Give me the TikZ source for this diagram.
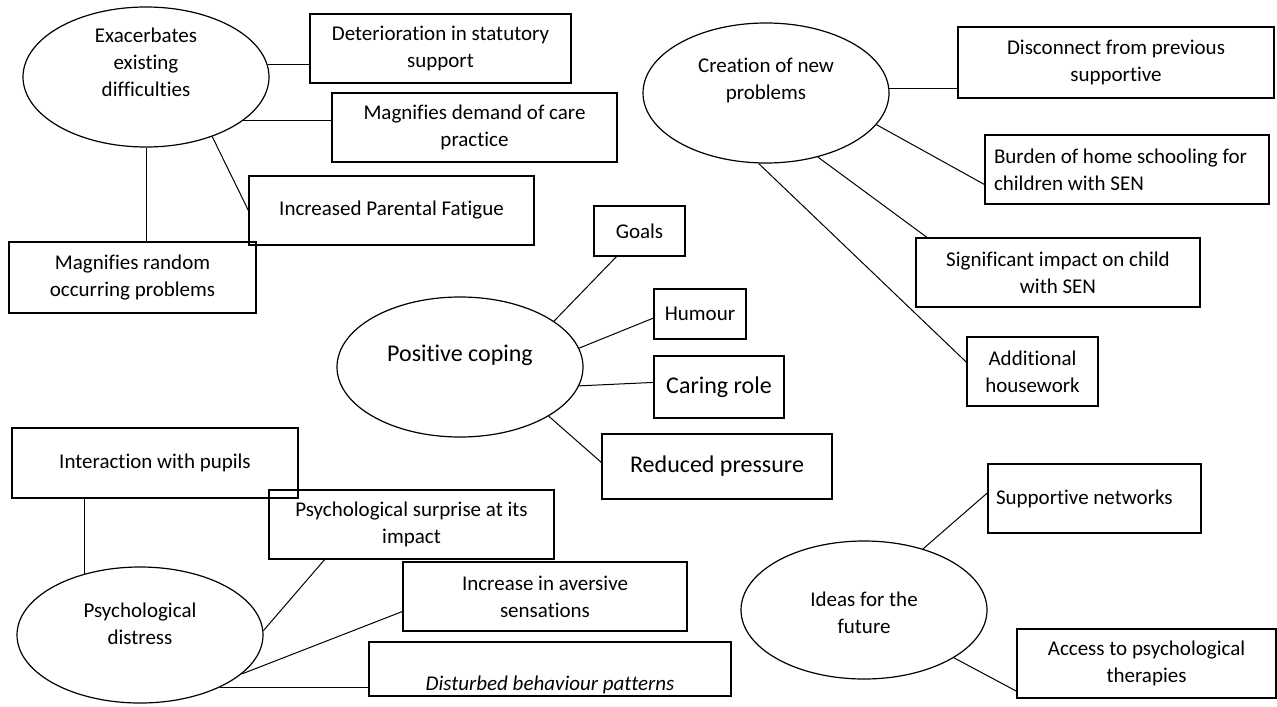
\documentclass[tikz,border=0pt]{standalone}
\usepackage{fontspec}
\setmainfont{Carlito}[Ligatures=NoCommon]
\usetikzlibrary{shapes.geometric}
\newcommand\nsz{\fontsize{10.5}{13.5}\selectfont}
\newcommand\lsz{\fontsize{12}{14.5}\selectfont}
\begin{document}
\begin{tikzpicture}[x=0.5pt,y=-0.5pt,
  box/.style={draw, line width=0.6pt, rectangle, inner sep=0pt, align=center, font=\nsz},
  lbox/.style={box, font=\lsz},
  oval/.style={draw, line width=0.6pt, ellipse, inner sep=0pt, minimum width=123pt, minimum height=70pt},
  etext/.style={align=center, font=\nsz},
  link/.style={line width=0.5pt}]
\useasboundingbox (0,0) rectangle (1277,706);

% ellipses
\node[oval, label={[etext, yshift=7.5pt]center:Exacerbates\\existing\\difficulties}] (e1) at (146,77) {};
\node[oval, label={[etext, yshift=6.5pt]center:Creation of new\\problems}] (e2) at (766,93) {};
\node[oval, label={[etext, font=\lsz, yshift=6pt]center:Positive coping}] (e3) at (460,367) {};
\node[oval, minimum height=68pt, label={[etext, yshift=5.75pt]center:Psychological\\distress}] (e4) at (140,635) {};
\node[oval, minimum height=69pt, label={[etext, yshift=-1.25pt]center:Ideas for the\\future}] (e5) at (864,610) {};

% boxes
\node[box, minimum width=130.5pt, minimum height=34.5pt] (det) at (440.5,48.5) {Deterioration in statutory\\support};
\node[box, minimum width=142.5pt, minimum height=34.5pt] (mdc) at (474.5,127.5) {Magnifies demand of care\\practice};
\node[box, minimum width=142.5pt, minimum height=34.5pt] (ipf) at (391.5,210.5) {Increased Parental Fatigue};
\node[box, minimum width=123.5pt, minimum height=35.5pt] (mro) at (132.5,277.5) {Magnifies random\\occurring problems};

\node[box, minimum width=158pt, minimum height=35.5pt] (disc) at (1116,62.5) {Disconnect from previous\\supportive};
\node[box, align=flush left, inner xsep=4.5pt, text width=133pt, minimum height=34.5pt] (burden) at (1127,169.5) {Burden of home schooling for\\children with SEN};
\node[box, minimum width=142pt, minimum height=34.5pt] (sig) at (1058,272.5) {Significant impact on child\\with SEN};
\node[box, minimum width=65.5pt, minimum height=34.5pt] (add) at (1032.5,371.5) {Additional\\housework};

\node[box, minimum width=45.5pt, minimum height=25pt] (goals) at (639.5,231) {Goals};
\node[box, minimum width=46pt, minimum height=25pt] (humour) at (700,314) {Humour};
\node[lbox, minimum width=65pt, minimum height=31pt] (caring) at (719,387) {Caring role};
\node[lbox, minimum width=115pt, minimum height=32.5pt] (reduced) at (717,466.5) {Reduced pressure};

\node[box, minimum width=143pt, minimum height=35pt] (inter) at (155,463) {Interaction with pupils};
\node[box, minimum width=142.5pt, minimum height=34.5pt] (surprise) at (411.5,524.5) {Psychological surprise at its\\impact};
\node[box, minimum width=142pt, minimum height=34.5pt] (aversive) at (545,596.5) {Increase in aversive\\sensations};
\node[box, minimum width=181pt, minimum height=27pt] (dist) at (550,669) {\strut\\\textit{Disturbed behaviour patterns}};

\node[box, align=flush left, inner xsep=4pt, text width=98.5pt, minimum height=34.5pt] (sup) at (1094.5,498.5) {Supportive networks};
\node[box, minimum width=129.5pt, minimum height=34.5pt] (access) at (1146.5,663.5) {Access to psychological\\therapies};

% connectors
\draw[link] (e1.6.6) -- (e1.6.6 -| det.west);
\draw[link] (e1.-24.7) -- (e1.-24.7 -| mdc.west);
\draw[link] (e1.-42) -- (ipf.west);
\draw[link] (e1.south) -- (e1.south |- mro.north);

\draw[link] (e2.2) -- (e2.2 -| disc.west);
\draw[link] (e2.-16.9) -- (burden.186.6);
\draw[link] (e2.-51.3) -- (sig.165.7);
\draw[link] (e2.-96.5) -- (add.172.6);

\draw[link] (e3.26.8) -- (goals.-132);
\draw[link] (e3.9.5) -- (humour.185);
\draw[link] (e3.-9.1) -- (caring.176.5);
\draw[link] (e3.-29.6) -- (reduced.178);

\draw[link] (e4.132.1) -- (e4.132.1 |- inter.south);
\draw[link] (e4.2) -- (surprise.-158);
\draw[link] (e4.-21) -- (aversive.186.2);
\draw[link] (e4.-33.3) -- (e4.-33.3 -| dist.west);

\draw[link] (e5.46.3) -- (sup.177.6);
\draw[link] (e5.-28.7) -- (access.192.4);
\end{tikzpicture}
\end{document}
